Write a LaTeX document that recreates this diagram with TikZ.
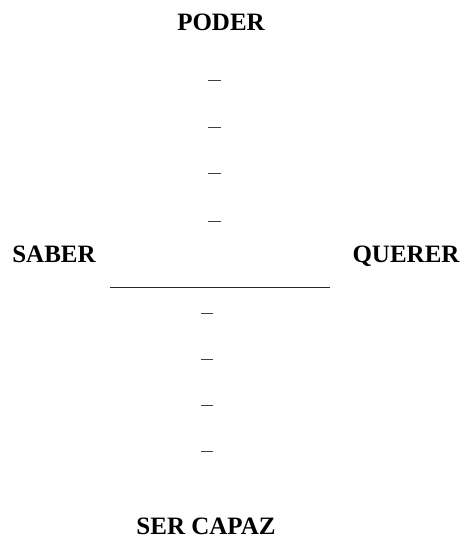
\documentclass[tikz,border=0pt]{standalone}
\usepackage{fontspec}
\setmainfont{Liberation Serif}
\begin{document}
\begin{tikzpicture}[x=1pt,y=-1pt,
  lbl/.style={anchor=base,inner sep=0pt,font=\fontsize{25}{30}\selectfont\bfseries},
  tick/.style={line width=1pt,black!75},
  axis/.style={line width=0.9pt,black!85}]
\useasboundingbox (0,0) rectangle (463,538);
\node[lbl] (poder) at (221,30) {PODER};
\node[lbl] (saber) at (54,262) {SABER};
\node[lbl] (querer) at (406,262) {QUERER};
\node[lbl] (ser) at (206,534) {SER CAPAZ};
\coordinate (l) at (110,287);
\coordinate (r) at (330,287);
\draw[axis] (l) -- (r);
\foreach \y in {80,127,173,221} \draw[tick] (208,\y) -- (221,\y);
\foreach \y in {313,359,405,451} \draw[tick] (201,\y) -- (213,\y);
\end{tikzpicture}
\end{document}
